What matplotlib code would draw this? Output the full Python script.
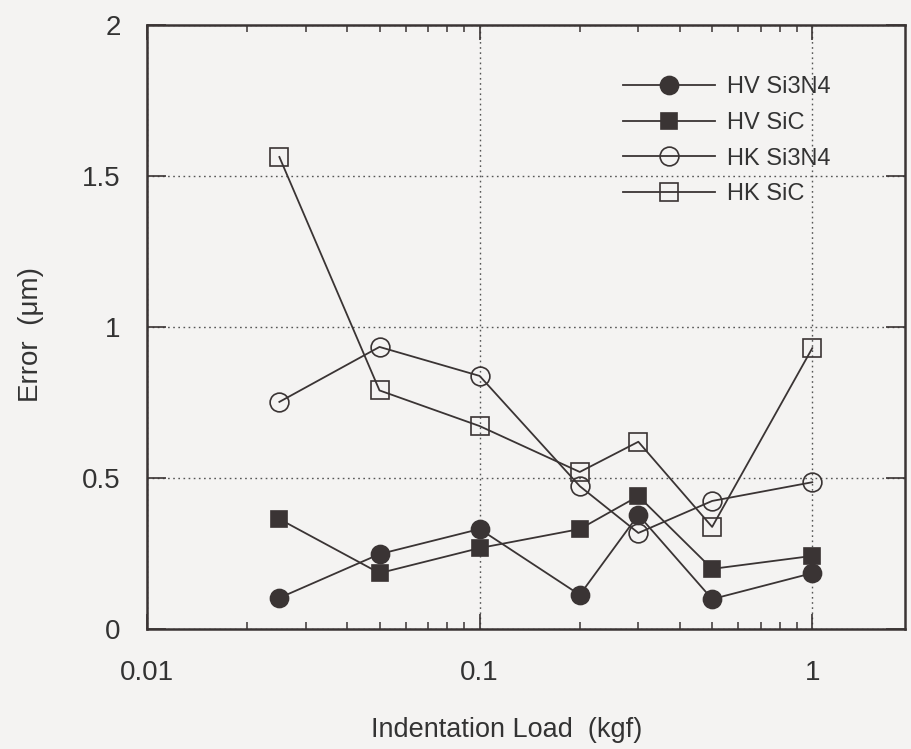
import matplotlib
matplotlib.use("Agg")
import matplotlib.pyplot as plt
from matplotlib.ticker import NullFormatter, LogLocator

plt.rcParams['font.family'] = ['Liberation Sans', 'DejaVu Sans']

loads = [0.025, 0.05, 0.1, 0.2, 0.3, 0.5, 1.0]
hv_si3n4 = [0.103, 0.248, 0.331, 0.113, 0.378, 0.099, 0.185]
hv_sic = [0.364, 0.185, 0.268, 0.331, 0.44, 0.199, 0.242]
hk_si3n4 = [0.752, 0.934, 0.838, 0.473, 0.318, 0.424, 0.486]
hk_sic = [1.563, 0.79, 0.672, 0.52, 0.62, 0.338, 0.93]

series_labels = ["HV Si3N4", "HV SiC", "HK Si3N4", "HK SiC"]
x_ticks = [0.01, 0.1, 1]
x_tick_labels = ["0.01", "0.1", "1"]
y_ticks = [0, 0.5, 1, 1.5, 2]
y_tick_labels = ["0", "0.5", "1", "1.5", "2"]

ink = '#3a3434'
txt = '#333333'
bg = '#f4f3f2'

fig = plt.figure(figsize=(9.12, 7.49), dpi=100, facecolor=bg)
ax = fig.add_axes([147/912, 1-629/749, (905-147)/912, (629-25)/749])
ax.set_facecolor(bg)

styles = [
    dict(marker='o', mfc=ink, mec=ink, ms=13),
    dict(marker='s', mfc=ink, mec=ink, ms=12),
    dict(marker='o', mfc='none', mec=ink, ms=13.5),
    dict(marker='s', mfc='none', mec=ink, ms=12.5),
]
for vals, lab, st in zip([hv_si3n4, hv_sic, hk_si3n4, hk_sic], series_labels, styles):
    ax.plot(loads, vals, color=ink, lw=1.3, mew=1.2, label=lab, **st)

ax.set_xscale('log')
ax.set_xlim(0.01, 1.9)
ax.set_ylim(0, 2)
ax.set_xticks(x_ticks)
ax.set_xticklabels(x_tick_labels)
ax.xaxis.set_minor_locator(LogLocator(base=10, subs=range(2, 10)))
ax.xaxis.set_minor_formatter(NullFormatter())
ax.set_yticks(y_ticks)
ax.set_yticklabels(y_tick_labels)

ax.tick_params(axis='both', which='major', direction='in', top=True, right=True,
               colors=ink, labelcolor=txt, labelsize=20, width=1.2)
ax.tick_params(axis='x', which='major', length=11, pad=22)
ax.tick_params(axis='y', which='major', length=14, pad=19)
ax.tick_params(axis='x', which='minor', direction='in', top=True, length=5,
               width=1.1, color=ink)

for s in ax.spines.values():
    s.set_color(ink)
    s.set_linewidth(1.8)

ax.grid(True, which='major', linestyle=(0, (1.2, 2.5)), color='#555555', lw=1.0)

ax.set_xlabel('Indentation Load  (kgf)', fontsize=19.5, color=txt)
ax.set_ylabel('Error  (μm)', fontsize=20, color=txt)
ax.xaxis.set_label_coords(0.474, -0.145)
ax.yaxis.set_label_coords(-0.136, 0.488)

leg = ax.legend(loc='upper left', bbox_to_anchor=(0.628, 0.915), frameon=False,
                fontsize=17, handlelength=3.9, handletextpad=0.5,
                labelspacing=0.58, borderpad=0, borderaxespad=0)
for t in leg.get_texts():
    t.set_color(txt)

fig.savefig('out.png', dpi=100, facecolor=bg)
